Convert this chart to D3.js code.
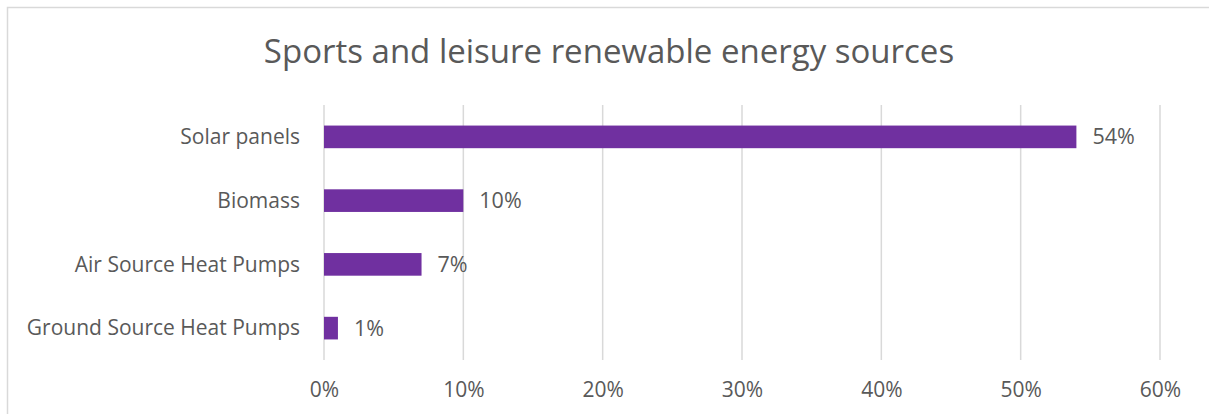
<!DOCTYPE html>
<html><head><meta charset="utf-8">
<script src="https://cdn.jsdelivr.net/npm/d3@7"></script>
<style>
html,body{margin:0;padding:0;background:#fff;}
svg{display:block;}
text{font-family:"Open Sans","Noto Sans",sans-serif;fill:#595959;}
</style></head>
<body>
<svg id="c" width="1209" height="414"></svg>
<script>
const title = "Sports and leisure renewable energy sources";
const categories = ["Solar panels","Biomass","Air Source Heat Pumps","Ground Source Heat Pumps"];
const values = [54, 10, 7, 1];
const tickValues = [0,10,20,30,40,50,60];
const tickLabels = ["0%","10%","20%","30%","40%","50%","60%"];

const svg = d3.select("#c");
// chart border
svg.append("rect").attr("x",7.5).attr("y",7.5).attr("width",1206).attr("height",420)
  .attr("fill","#fff").attr("stroke","#d9d9d9").attr("stroke-width",1.5);

const x = d3.scaleLinear().domain([0,60]).range([324,1160]);
const y = d3.scaleBand().domain(categories).range([105,360]).paddingInner(0.645).paddingOuter(0.3225);

// gridlines
svg.append("g").selectAll("line").data(tickValues).join("line")
  .attr("x1",d=>x(d)).attr("x2",d=>x(d)).attr("y1",105).attr("y2",360)
  .attr("stroke","#d9d9d9").attr("stroke-width",1.5);

// x axis labels
const xAxis = d3.axisBottom(x).tickValues(tickValues).tickFormat((d,i)=>tickLabels[i]).tickSize(0).tickPadding(0);
const gx = svg.append("g").attr("transform","translate(0,360)").call(xAxis);
gx.select(".domain").remove();
gx.selectAll("text").attr("dy",null).attr("y",37).style("font-size","21px").style("fill","#595959")
  .style("font-family",'"Open Sans","Noto Sans",sans-serif');

// y axis labels
const yAxis = d3.axisLeft(y).tickSize(0).tickPadding(24);
const gy = svg.append("g").attr("transform","translate(324,0)").call(yAxis);
gy.select(".domain").remove();
gy.selectAll("text").style("font-size","21px").style("fill","#595959")
  .style("font-family",'"Open Sans","Noto Sans",sans-serif').attr("dy","0.35em");

// bars
svg.append("g").selectAll("rect").data(values).join("rect")
  .attr("x",x(0)).attr("y",(d,i)=>y(categories[i]))
  .attr("width",d=>x(d)-x(0)).attr("height",y.bandwidth())
  .attr("fill","#7030a0");

// value labels
svg.append("g").selectAll("text").data(values).join("text")
  .attr("x",d=>x(d)+16).attr("y",(d,i)=>y(categories[i])+y.bandwidth()/2)
  .attr("dy","0.35em").style("font-size","21.5px").text(d=>d+"%");

// title
svg.append("text").attr("x",609).attr("y",63).attr("text-anchor","middle")
  .style("font-size","33px").text(title);
</script>
</body></html>
